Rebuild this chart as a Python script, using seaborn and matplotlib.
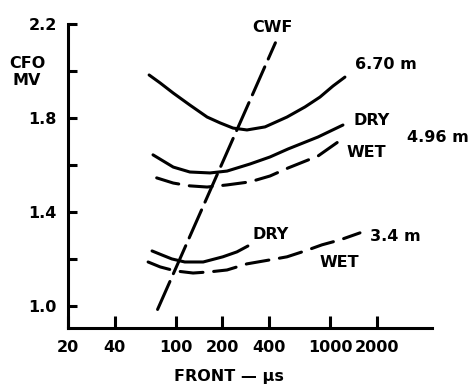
import matplotlib
matplotlib.use("Agg")
import matplotlib.pyplot as plt
from matplotlib.ticker import NullLocator
import pandas as pd
import seaborn as sns

# Critical flashover (MV) versus wave front (microseconds)
front_670 = [67, 79, 96, 123, 159, 193, 234, 288, 377, 523, 684, 855, 1038, 1240]
cfo_670 = [1.983, 1.949, 1.906, 1.855, 1.804, 1.779, 1.757, 1.749, 1.762,
           1.804, 1.847, 1.889, 1.936, 1.974]

front_496_dry = [71, 96, 123, 166, 214, 301, 406, 531, 830, 1204]
cfo_496_dry = [1.643, 1.591, 1.570, 1.566, 1.574, 1.604, 1.634, 1.668, 1.719, 1.770]

front_496_wet = [75, 96, 123, 159, 214, 301, 406, 531, 830, 1242]
cfo_496_wet = [1.545, 1.523, 1.511, 1.506, 1.515, 1.528, 1.553, 1.587, 1.638, 1.719]

front_34_dry = [70, 81, 94, 114, 150, 201, 248, 292]
cfo_34_dry = [1.234, 1.217, 1.200, 1.187, 1.187, 1.209, 1.230, 1.255]

front_34_wet = [66, 79, 99, 129, 166, 214, 288, 406, 523, 684, 881, 1152, 1552]
cfo_34_wet = [1.187, 1.166, 1.149, 1.140, 1.145, 1.153, 1.179, 1.196, 1.209,
              1.234, 1.260, 1.281, 1.311]

front_cwf = [76, 440]
cfo_cwf = [0.985, 2.12]

x_ticks = [20, 40, 100, 200, 400, 1000, 2000]
x_tick_labels = ["20", "40", "100", "200", "400", "1000", "2000"]
y_ticks = [1.0, 1.2, 1.4, 1.6, 1.8, 2.0, 2.2]
y_tick_labels = ["1.0", "", "1.4", "", "1.8", "", "2.2"]

sns.set_style("ticks")
plt.rcParams["font.family"] = ["DejaVu Sans"]
plt.rcParams.update({
    "text.color": "black",
    "axes.edgecolor": "black",
    "axes.labelcolor": "black",
    "xtick.color": "black",
    "ytick.color": "black",
})

fig = plt.figure(figsize=(4.72, 3.89), dpi=100)
ax = fig.add_axes([68 / 472, 1 - 328 / 389, (432 - 68) / 472, (328 - 24) / 389])

LW = 2.2
series = [
    (front_670, cfo_670, None),
    (front_496_dry, cfo_496_dry, None),
    (front_496_wet, cfo_496_wet, (7.5, 3.5)),
    (front_34_dry, cfo_34_dry, None),
    (front_34_wet, cfo_34_wet, (7.5, 3.5)),
    (front_cwf, cfo_cwf, (10, 2.8)),
]
for fx, fy, dash in series:
    df = pd.DataFrame({"front": fx, "cfo": fy})
    sns.lineplot(data=df, x="front", y="cfo", ax=ax, color="black",
                 linewidth=LW, estimator=None, sort=False,
                 solid_capstyle="round", solid_joinstyle="round",
                 dash_capstyle="round", dash_joinstyle="round")
    if dash is not None:
        ax.lines[-1].set_dashes(dash)

ax.set_xscale("log")
ax.set_xlim(20, 4540)
ax.set_ylim(0.906, 2.2)
ax.xaxis.set_minor_locator(NullLocator())
ax.yaxis.set_minor_locator(NullLocator())
ax.set_xticks(x_ticks)
ax.set_xticklabels(x_tick_labels)
ax.set_yticks(y_ticks)
ax.set_yticklabels(y_tick_labels)

for s in ["top", "right"]:
    ax.spines[s].set_visible(False)
for s in ["left", "bottom"]:
    ax.spines[s].set_linewidth(LW)
    ax.spines[s].set_capstyle("projecting")

ax.tick_params(axis="x", direction="in", length=8.6, width=LW, pad=9,
               labelsize=11.5, colors="black")
ax.tick_params(axis="y", direction="in", length=6.5, width=LW, pad=8,
               labelsize=11.5, colors="black")
for lbl in ax.get_xticklabels() + ax.get_yticklabels():
    lbl.set_fontweight("bold")

ax.set_xlabel("")
ax.set_ylabel("")

txt = dict(fontsize=11.5, fontweight="bold", color="black", va="center",
           clip_on=False)
ax.text(418, 2.187, "CWF", ha="center", **txt)
ax.text(1442, 2.026, "6.70 m", ha="left", **txt)
ax.text(1400, 1.791, "DRY", ha="left", **txt)
ax.text(3128, 1.719, "4.96 m", ha="left", **txt)
ax.text(1279, 1.651, "WET", ha="left", **txt)
ax.text(315, 1.302, "DRY", ha="left", **txt)
ax.text(855, 1.183, "WET", ha="left", **txt)
ax.text(1802, 1.294, "3.4 m", ha="left", **txt)

fig.text(27 / 472, 1 - 72 / 389, "CFO\nMV", ha="center", va="center",
         fontsize=11.5, fontweight="bold", linespacing=1.1, color="black")
fig.text(229 / 472, 1 - 377 / 389, "FRONT — μs", ha="center", va="center",
         fontsize=11.5, fontweight="bold", color="black")

fig.savefig("out.png", dpi=100)
